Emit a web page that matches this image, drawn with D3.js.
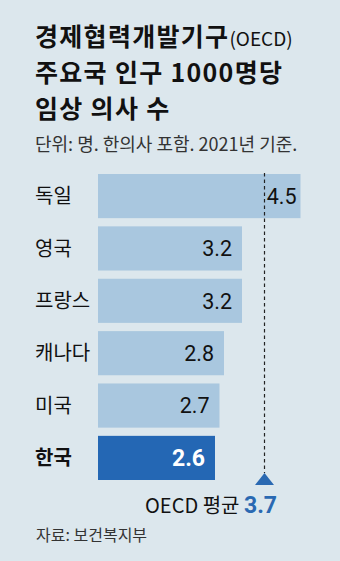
<!DOCTYPE html>
<html>
<head>
<meta charset="utf-8">
<script src="https://cdn.jsdelivr.net/npm/d3@7"></script>
<style>
  html, body { margin: 0; padding: 0; background: #dce7ed; }
  svg { display: block; font-family: "Noto Sans CJK KR", "Noto Sans", sans-serif; }
</style>
</head>
<body>
<svg id="chart"></svg>
<script>
// data
const countries = ['독일', '영국', '프랑스', '캐나다', '미국', '한국'];
const doctors = [4.5, 3.2, 3.2, 2.8, 2.7, 2.6];
const oecdAvg = 3.7;
const titleLines = ['경제협력개발기구', '주요국 인구 1000명당', '임상 의사 수'];

const width = 340, height = 561;
const svg = d3.select('#chart')
    .attr('width', width)
    .attr('height', height);

svg.append('rect')
    .attr('width', width)
    .attr('height', height)
    .attr('fill', '#dce7ed');

// title, one text per line, spaced so the lines do not collide
const title = svg.selectAll('.title')
    .data(titleLines)
    .join('text')
    .attr('class', 'title')
    .attr('x', 35)
    .attr('y', (d, i) => 45.5 + i * 36.3)
    .attr('font-size', 25)
    .attr('font-weight', 700)
    .attr('letter-spacing', 1.3)
    .attr('fill', '#111')
    .text(d => d);

title.filter((d, i) => i === 0)
    .append('tspan')
    .attr('font-size', 19)
    .attr('font-weight', 400)
    .attr('letter-spacing', 0)
    .text('(OECD)');

svg.append('text')
    .attr('x', 35)
    .attr('y', 151)
    .attr('font-size', 18)
    .attr('fill', '#333')
    .text('단위: 명. 한의사 포함. 2021년 기준.');

// scales
const x = d3.scaleLinear()
    .domain([0, 1])
    .range([98, 143]);

const y = d3.scaleBand()
    .domain(countries)
    .range([174, 480])
    .paddingInner(0.157)
    .paddingOuter(0);

const chart = svg.append('g');

chart.selectAll('.bar')
    .data(countries)
    .join('rect')
    .attr('class', 'bar')
    .attr('x', x(0))
    .attr('y', d => y(d))
    .attr('width', (d, i) => x(doctors[i]) - x(0))
    .attr('height', y.bandwidth())
    .attr('fill', d => d === '한국' ? '#2467b4' : '#a9c7df');

// country labels
chart.selectAll('.label')
    .data(countries)
    .join('text')
    .attr('class', 'label')
    .attr('x', 35)
    .attr('y', d => y(d) + y.bandwidth() / 2)
    .attr('dy', '0.36em')
    .attr('font-size', 20)
    .attr('font-weight', d => d === '한국' ? 700 : 400)
    .attr('fill', '#111')
    .text(d => d);

// OECD average dashed line
const avgX = x(oecdAvg);
chart.append('line')
    .attr('x1', avgX)
    .attr('x2', avgX)
    .attr('y1', y(countries[0]) - 1)
    .attr('y2', 473)
    .attr('stroke', '#222')
    .attr('stroke-width', 1.2)
    .attr('stroke-dasharray', '3.5,3');

// value labels
chart.selectAll('.value')
    .data(countries)
    .join('text')
    .attr('class', 'value')
    .attr('x', (d, i) => x(doctors[i]) - (doctors[i] > oecdAvg ? 4 : 10))
    .attr('y', d => y(d) + y.bandwidth() / 2)
    .attr('dy', '0.36em')
    .attr('text-anchor', 'end')
    .attr('font-family', 'Roboto, sans-serif')
    .attr('font-size', d => d === '한국' ? 23 : 21.5)
    .attr('font-weight', d => d === '한국' ? 700 : 400)
    .attr('fill', d => d === '한국' ? '#fff' : '#111')
    .text((d, i) => doctors[i].toFixed(1));

// triangle marker under the average line
chart.append('path')
    .attr('d', `M${avgX},473 l9.5,12 h-19 Z`)
    .attr('fill', '#2a69b2');

const avgLabel = svg.append('text')
    .attr('x', 277)
    .attr('y', 513)
    .attr('text-anchor', 'end')
    .attr('fill', '#111');
avgLabel.append('tspan')
    .attr('font-size', 20)
    .text('OECD 평균 ');
avgLabel.append('tspan')
    .attr('font-family', 'Roboto, sans-serif')
    .attr('font-size', 23)
    .attr('font-weight', 700)
    .attr('fill', '#2a69b2')
    .text(oecdAvg.toFixed(1));

svg.append('text')
    .attr('x', 36)
    .attr('y', 541)
    .attr('font-size', 16)
    .attr('fill', '#333')
    .text('자료: 보건복지부');
</script>
</body>
</html>
